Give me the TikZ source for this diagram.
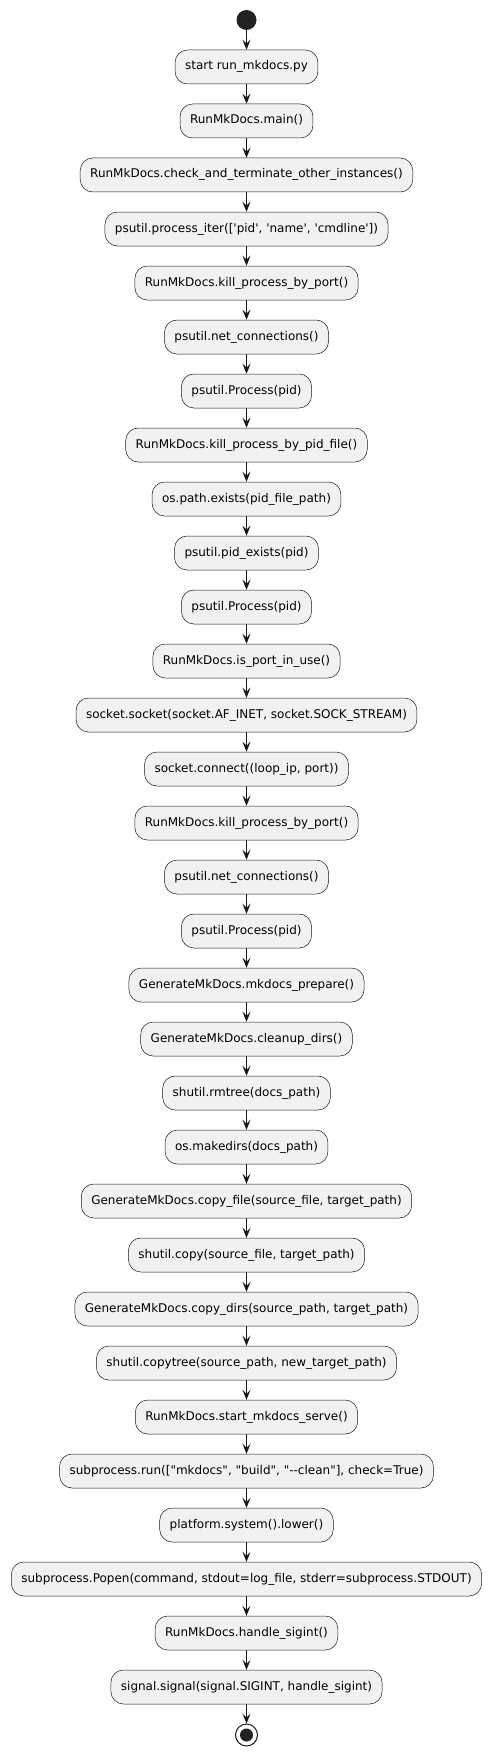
\documentclass[tikz,border=0pt]{standalone}
\usepackage{fontspec}
\usepackage{tikz}
\usetikzlibrary{arrows.meta, positioning}
\newfontfamily\umlfont{DejaVu Sans}
\definecolor{boxFill}{HTML}{F1F1F1}
\definecolor{lineDark}{HTML}{181818}
\definecolor{dotDark}{HTML}{222222}
\tikzset{
    actbox/.style={draw=lineDark, fill=boxFill, line width=0.5pt, rounded corners=12.5pt,
        minimum height=34pt, inner xsep=10pt, inner ysep=0pt,
        font=\umlfont\fontsize{12}{14}\selectfont, text height=9pt, text depth=3pt},
    flow/.style={draw=lineDark, line width=1pt, -{Stealth[length=10pt, width=8pt, inset=4pt]}},
}
\def\midx{246.5}

\begin{document}
\begin{tikzpicture}[x=1pt, y=-1pt]
        \useasboundingbox (0,0) rectangle (492,1755);

        % Start
        \node[circle, fill=dotDark, minimum size=20pt, inner sep=0pt] (start) at (\midx, 20) {};

        % Activities
        \foreach \txt [count=\i] in {
            start run\_mkdocs.py,
            RunMkDocs.main(),
            RunMkDocs.check\_and\_terminate\_other\_instances(),
            {psutil.process\_iter(['pid', 'name', 'cmdline'])},
            RunMkDocs.kill\_process\_by\_port(),
            psutil.net\_connections(),
            psutil.Process(pid),
            RunMkDocs.kill\_process\_by\_pid\_file(),
            os.path.exists(pid\_file\_path),
            psutil.pid\_exists(pid),
            psutil.Process(pid),
            RunMkDocs.is\_port\_in\_use(),
            {socket.socket(socket.AF\_INET, socket.SOCK\_STREAM)},
            {socket.connect((loop\_ip, port))},
            RunMkDocs.kill\_process\_by\_port(),
            psutil.net\_connections(),
            psutil.Process(pid),
            GenerateMkDocs.mkdocs\_prepare(),
            GenerateMkDocs.cleanup\_dirs(),
            shutil.rmtree(docs\_path),
            os.makedirs(docs\_path),
            {GenerateMkDocs.copy\_file(source\_file, target\_path)},
            {shutil.copy(source\_file, target\_path)},
            {GenerateMkDocs.copy\_dirs(source\_path, target\_path)},
            {shutil.copytree(source\_path, new\_target\_path)},
            RunMkDocs.start\_mkdocs\_serve(),
            {subprocess.run(["mkdocs", "build", "--clean"], check=True)},
            platform.system().lower(),
            {subprocess.Popen(command, stdout=log\_file, stderr=subprocess.STDOUT)},
            RunMkDocs.handle\_sigint(),
            {signal.signal(signal.SIGINT, handle\_sigint)}
        } {
            \node[actbox] (act\i) at (\midx, {67+(\i-1)*54}) {\txt};
        }

        % Stop
        \node[circle, draw=lineDark, line width=1pt, fill=white, minimum size=22pt, inner sep=0pt] (stop) at (\midx, 1735) {};
        \node[circle, fill=dotDark, minimum size=13pt, inner sep=0pt] at (stop) {};

        % Connectors
        \draw[flow] (start) -- (act1);
        \foreach \i [evaluate=\i as \j using int(\i+1)] in {1,...,30} {
            \draw[flow] (act\i) -- (act\j);
        }
        \draw[flow] (act31) -- (stop);
    \end{tikzpicture}
\end{document}
